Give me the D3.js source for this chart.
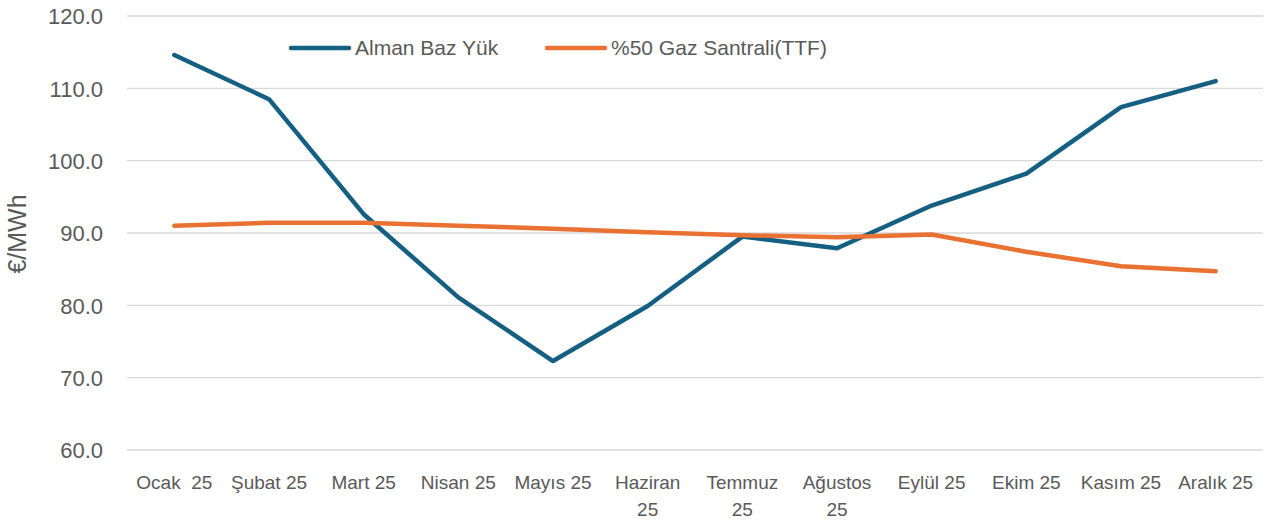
<!DOCTYPE html>
<html>
<head>
<meta charset="utf-8">
<script src="https://cdn.jsdelivr.net/npm/d3@7"></script>
<style>
	body { margin: 0; background: #fff; }
	text { font-family: 'Liberation Sans', Arial, sans-serif; fill: #595959; }
</style>
</head>
<body>
<div class="canvas"></div>
<script>
// data
const months = [
	['Ocak  25'], ['Şubat 25'], ['Mart 25'], ['Nisan 25'], ['Mayıs 25'], ['Haziran', '25'],
	['Temmuz', '25'], ['Ağustos', '25'], ['Eylül 25'], ['Ekim 25'], ['Kasım 25'], ['Aralık 25']
];
const almanBazYuk = [114.6, 108.5, 92.6, 81.1, 72.3, 79.9, 89.5, 87.9, 93.8, 98.2, 107.4, 111.0];
const gazSantrali = [91.0, 91.4, 91.4, 91.0, 90.6, 90.1, 89.7, 89.4, 89.8, 87.4, 85.4, 84.7];
const yTicks = [60, 70, 80, 90, 100, 110, 120];
const seriesNames = ['Alman Baz Yük', '%50 Gaz Santrali(TTF)'];
const colors = ['#156082', '#E97132'];

const width = 1272;
const height = 523;
const margin = { top: 16, right: 10, bottom: 73, left: 127 };
const graphWidth = 1263 - margin.left;
const graphHeight = 450 - margin.top;

const svg = d3.select('.canvas')
	.append('svg')
	.attr('width', width)
	.attr('height', height);

const graph = svg.append('g')
	.attr('transform', `translate(${margin.left},${margin.top})`);

// scales
const x = d3.scaleBand()
	.domain(months.map((m, i) => i))
	.range([0, graphWidth]);

const y = d3.scaleLinear()
	.domain([60, 120])
	.range([graphHeight, 0]);

// gridlines
graph.append('g')
	.selectAll('line')
	.data(yTicks)
	.enter()
	.append('line')
	.attr('x1', 0)
	.attr('x2', graphWidth)
	.attr('y1', d => y(d))
	.attr('y2', d => y(d))
	.attr('stroke', '#d9d9d9')
	.attr('stroke-width', 1.3);

// y axis
const yAxis = d3.axisLeft(y)
	.tickValues(yTicks)
	.tickFormat(d3.format('.1f'))
	.tickSize(0)
	.tickPadding(24);
const yAxisGroup = graph.append('g').call(yAxis);
yAxisGroup.select('.domain').remove();
yAxisGroup.selectAll('text')
	.attr('font-size', '22px')
	.attr('dy', '0.36em')
	.attr('fill', '#595959')
	.attr('font-family', 'Liberation Sans, Arial, sans-serif');

// x axis labels (wrapped)
const xLabels = graph.append('g')
	.attr('transform', `translate(0,${graphHeight})`);
xLabels.selectAll('text')
	.data(months)
	.enter()
	.append('text')
	.attr('x', (d, i) => x(i) + x.bandwidth() / 2)
	.attr('y', 39)
	.attr('text-anchor', 'middle')
	.attr('font-size', '19px')
	.each(function (d) {
		const t = d3.select(this);
		d.forEach((line, j) => {
			t.append('tspan')
				.attr('x', t.attr('x'))
				.attr('dy', j === 0 ? 0 : 27)
				.style('white-space', 'pre')
				.text(line);
		});
	});

// y axis title
svg.append('text')
	.attr('transform', `translate(26,234) rotate(-90)`)
	.attr('text-anchor', 'middle')
	.attr('font-size', '25px')
	.text('€/MWh');

// lines
const line = d3.line()
	.x((d, i) => x(i) + x.bandwidth() / 2)
	.y(d => y(d));

[almanBazYuk, gazSantrali].forEach((series, k) => {
	graph.append('path')
		.datum(series)
		.attr('fill', 'none')
		.attr('stroke', colors[k])
		.attr('stroke-width', 4.5)
		.attr('stroke-linecap', 'round')
		.attr('stroke-linejoin', 'round')
		.attr('d', line);
});

// legend
const legendX = [291, 547];
const legend = svg.append('g');
seriesNames.forEach((name, k) => {
	legend.append('line')
		.attr('x1', legendX[k])
		.attr('x2', legendX[k] + 58)
		.attr('y1', 48)
		.attr('y2', 48)
		.attr('stroke', colors[k])
		.attr('stroke-width', 4.5)
		.attr('stroke-linecap', 'round');
	legend.append('text')
		.attr('x', legendX[k] + 64)
		.attr('y', 55)
		.attr('font-size', '21px')
		.text(name);
});
</script>
</body>
</html>
